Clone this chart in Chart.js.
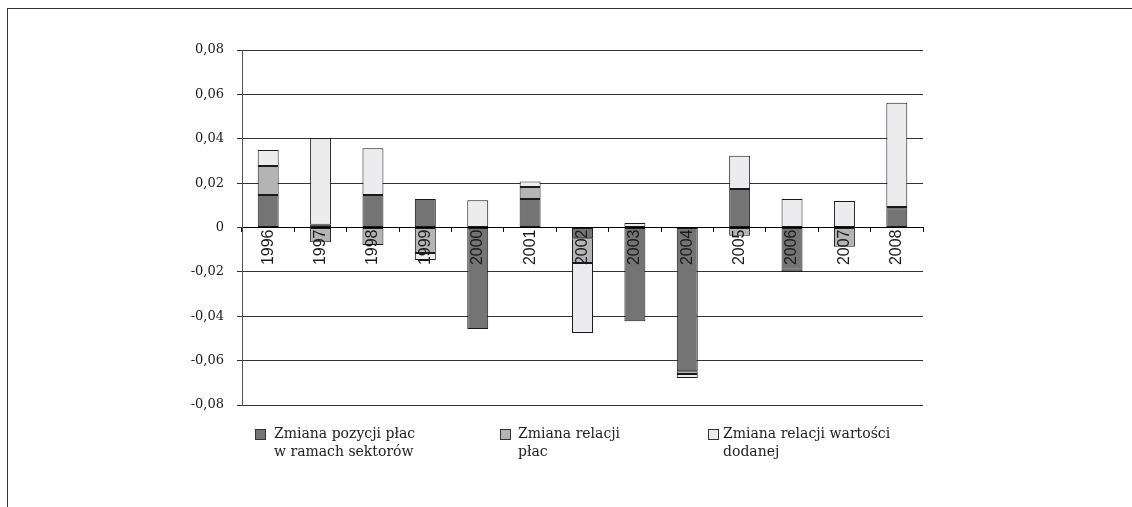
<!DOCTYPE html>
<html>
<head>
<meta charset="utf-8">
<script src="https://cdn.jsdelivr.net/npm/chart.js@4.4.1/dist/chart.umd.min.js"></script>
<style>
  html, body { margin: 0; padding: 0; background: #fff; }
  #wrap { position: relative; width: 1132px; height: 507px; overflow: hidden; }
  #frame { position: absolute; left: 7px; top: 8px; width: 1200px; height: 600px;
           border-left: 1px solid #333; border-top: 1px solid #333; }
  canvas { position: absolute; left: 0; top: 0; }
  .lg { position: absolute; font-family: "DejaVu Serif", serif; font-size: 14px; line-height: 18px; color: #222; white-space: nowrap; }
  .box { position: absolute; width: 9px; height: 9px; border: 1px solid #333; }
</style>
</head>
<body>
<div id="wrap">
  <div id="frame"></div>
  <canvas id="c" width="1132" height="507"></canvas>
  <div id="legend"></div>
</div>
<script>
const categories = ['1996','1997','1998','1999','2000','2001','2002','2003','2004','2005','2006','2007','2008'];
const seriesNames = [['Zmiana pozycji płac', 'w ramach sektorów'], ['Zmiana relacji', 'płac'], ['Zmiana relacji wartości', 'dodanej']];
const positionChange = [0.0147, 0.0012, 0.0147, 0.0128, -0.0457, 0.0129, -0.0048, -0.0422, -0.0648, 0.0173, -0.0190, null, 0.0087];
const wageRelationChange = [0.0130, -0.0066, -0.0079, -0.0115, null, 0.0053, -0.0112, null, -0.0012, -0.0037, -0.0010, -0.0087, 0.0005];
const valueAddedChange = [0.0072, 0.0390, 0.0210, -0.0032, 0.0123, 0.0025, -0.0316, 0.0020, -0.0018, 0.0150, 0.0129, 0.0119, 0.0470];
const yTickValues = [-0.08, -0.06, -0.04, -0.02, 0, 0.02, 0.04, 0.06, 0.08];
const yTickLabels = ['-0,08', '-0,06', '-0,04', '-0,02', '0', '0,02', '0,04', '0,06', '0,08'];

const colors = ['#747474', '#b4b4b4', '#ececee'];
const seriesData = [positionChange, wageRelationChange, valueAddedChange];

const datasets = seriesData.map((d, i) => ({
  label: seriesNames[i].join(' '),
  data: d,
  backgroundColor: colors[i],
  borderColor: '#1a1a1a',
  borderWidth: 1,
  borderSkipped: false,
  barPercentage: 0.4,
  categoryPercentage: 1.0,
  stack: 's'
}));

new Chart(document.getElementById('c'), {
  type: 'bar',
  data: { labels: categories, datasets },
  options: {
    responsive: false,
    devicePixelRatio: 1,
    animation: false,
    layout: { padding: { top: 50, bottom: 102, right: 209, left: 0 } },
    plugins: { legend: { display: false }, tooltip: { enabled: false } },
    scales: {
      x: {
        stacked: true,
        position: { y: 0 },
        offset: true,
        grid: { display: true, drawOnChartArea: false, drawTicks: true, tickLength: 4, color: '#111', offset: true },
        border: { display: true, color: '#000', width: 1 },
        ticks: {
          z: 1,
          minRotation: 90, maxRotation: 90,
          autoSkip: false,
          padding: -2,
          color: '#1a1a1a',
          font: { family: '"Liberation Sans", Arial, sans-serif', size: 16 }
        }
      },
      y: {
        stacked: true,
        min: -0.08, max: 0.08,
        afterFit: (s) => { s.width = 242; },
        afterBuildTicks: (s) => { s.ticks = yTickValues.map(v => ({ value: v })); },
        grid: { color: '#333', lineWidth: 1, drawTicks: true, tickLength: 5 },
        border: { display: true, color: '#555', width: 1 },
        ticks: {
          padding: 13,
          color: '#1a1a1a',
          font: { family: '"DejaVu Serif", serif', size: 13 },
          callback: (v, i) => yTickLabels[i]
        }
      }
    }
  }
});

const legendPos = [{ box: 255, text: 274 }, { box: 500, text: 518 }, { box: 708, text: 723 }];
const lg = document.getElementById('legend');
seriesNames.forEach((lines, i) => {
  const b = document.createElement('div');
  b.className = 'box';
  b.style.left = legendPos[i].box + 'px';
  b.style.top = '429px';
  b.style.background = colors[i];
  lg.appendChild(b);
  const t = document.createElement('div');
  t.className = 'lg';
  t.style.left = legendPos[i].text + 'px';
  t.style.top = '424px';
  t.innerHTML = lines.join('<br>');
  lg.appendChild(t);
});
</script>
</body>
</html>
